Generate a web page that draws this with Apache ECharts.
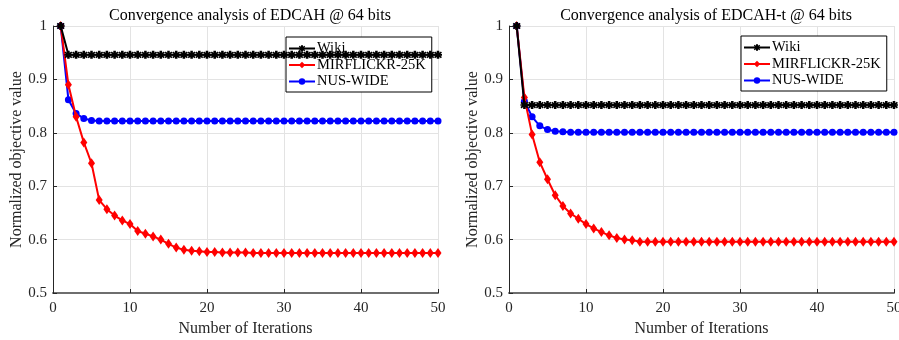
<!DOCTYPE html>
<html>
<head>
<meta charset="utf-8">
<script src="https://cdn.jsdelivr.net/npm/echarts@6/dist/echarts.min.js"></script>
<style>
  html, body { margin: 0; padding: 0; background: #fff; }
  #chart { width: 899px; height: 340px; }
</style>
</head>
<body>
<div id="chart"></div>
<script>
// left panel: EDCAH
const titleLeft = "Convergence analysis of EDCAH @ 64 bits";
const titleRight = "Convergence analysis of EDCAH-t @ 64 bits";
const seriesNames = ["Wiki", "MIRFLICKR-25K", "NUS-WIDE"];
const xTicks = [0, 10, 20, 30, 40, 50];
const yTicks = [0.5, 0.6, 0.7, 0.8, 0.9, 1];

const wikiLeft = [
  1.000, 0.946, 0.946, 0.946, 0.946, 0.946, 0.946, 0.946, 0.946, 0.946,
  0.946, 0.946, 0.946, 0.946, 0.946, 0.946, 0.946, 0.946, 0.946, 0.946,
  0.946, 0.946, 0.946, 0.946, 0.946, 0.946, 0.946, 0.946, 0.946, 0.946,
  0.946, 0.946, 0.946, 0.946, 0.946, 0.946, 0.946, 0.946, 0.946, 0.946,
  0.946, 0.946, 0.946, 0.946, 0.946, 0.946, 0.946, 0.946, 0.946, 0.946
];
const mirLeft = [
  1.000, 0.890, 0.830, 0.782, 0.743, 0.674, 0.657, 0.645, 0.636, 0.629,
  0.616, 0.611, 0.606, 0.600, 0.592, 0.585, 0.581, 0.579, 0.578, 0.577,
  0.577, 0.576, 0.576, 0.576, 0.576, 0.575, 0.575, 0.575, 0.575, 0.575,
  0.575, 0.575, 0.575, 0.575, 0.575, 0.575, 0.575, 0.575, 0.575, 0.575,
  0.575, 0.575, 0.575, 0.575, 0.575, 0.575, 0.575, 0.575, 0.575, 0.575
];
const nusLeft = [
  1.000, 0.862, 0.836, 0.827, 0.823, 0.822, 0.822, 0.822, 0.822, 0.822,
  0.822, 0.822, 0.822, 0.822, 0.822, 0.822, 0.822, 0.822, 0.822, 0.822,
  0.822, 0.822, 0.822, 0.822, 0.822, 0.822, 0.822, 0.822, 0.822, 0.822,
  0.822, 0.822, 0.822, 0.822, 0.822, 0.822, 0.822, 0.822, 0.822, 0.822,
  0.822, 0.822, 0.822, 0.822, 0.822, 0.822, 0.822, 0.822, 0.822, 0.822
];

// right panel: EDCAH-t
const wikiRight = [
  1.000, 0.852, 0.852, 0.852, 0.852, 0.852, 0.852, 0.852, 0.852, 0.852,
  0.852, 0.852, 0.852, 0.852, 0.852, 0.852, 0.852, 0.852, 0.852, 0.852,
  0.852, 0.852, 0.852, 0.852, 0.852, 0.852, 0.852, 0.852, 0.852, 0.852,
  0.852, 0.852, 0.852, 0.852, 0.852, 0.852, 0.852, 0.852, 0.852, 0.852,
  0.852, 0.852, 0.852, 0.852, 0.852, 0.852, 0.852, 0.852, 0.852, 0.852
];
const mirRight = [
  1.000, 0.866, 0.797, 0.745, 0.713, 0.683, 0.663, 0.649, 0.639, 0.629,
  0.621, 0.614, 0.608, 0.603, 0.600, 0.599, 0.596, 0.596, 0.596, 0.596,
  0.596, 0.596, 0.596, 0.596, 0.596, 0.596, 0.596, 0.596, 0.596, 0.596,
  0.596, 0.596, 0.596, 0.596, 0.596, 0.596, 0.596, 0.596, 0.596, 0.596,
  0.596, 0.596, 0.596, 0.596, 0.596, 0.596, 0.596, 0.596, 0.596, 0.596
];
const nusRight = [
  1.000, 0.859, 0.830, 0.813, 0.806, 0.803, 0.802, 0.801, 0.801, 0.801,
  0.801, 0.801, 0.801, 0.801, 0.801, 0.801, 0.801, 0.801, 0.801, 0.801,
  0.801, 0.801, 0.801, 0.801, 0.801, 0.801, 0.801, 0.801, 0.801, 0.801,
  0.801, 0.801, 0.801, 0.801, 0.801, 0.801, 0.801, 0.801, 0.801, 0.801,
  0.801, 0.801, 0.801, 0.801, 0.801, 0.801, 0.801, 0.801, 0.801, 0.801
];

const serif = "'Liberation Serif', 'DejaVu Serif', serif";
const colors = ["#000000", "#ff0000", "#0000ff"];
// chunky asterisk, like matlab's '*' drawn with a thick pen
const starPath = "path://M-1.6,-5 L1.6,-5 L1.6,-2.6 L3.6,-4.2 L5,-2.6 L3,-1 L5,-1 L5,1 L3,1 L5,2.6 L3.6,4.2 L1.6,2.6 L1.6,5 L-1.6,5 L-1.6,2.6 L-3.6,4.2 L-5,2.6 L-3,1 L-5,1 L-5,-1 L-3,-1 L-5,-2.6 L-3.6,-4.2 L-1.6,-2.6 Z";
const symbols = [starPath, "diamond", "circle"];
const symbolSizes = [8, [7, 10], 7];

const toPoints = (values) => values.map((v, i) => [i + 1, v]);

function makeAxes(gridIndex) {
  const xAxis = {
    gridIndex,
    type: "value",
    min: 0,
    max: 50,
    interval: 10,
    name: "Number of Iterations",
    nameLocation: "middle",
    nameGap: 27,
    nameTextStyle: { fontFamily: serif, fontSize: 16, color: "#262626" },
    axisLine: { onZero: false, lineStyle: { color: "#6e6e6e", width: 2 } },
    axisTick: { inside: true, length: 4, lineStyle: { color: "#262626" } },
    axisLabel: { fontFamily: serif, fontSize: 15, color: "#262626", margin: 8 },
    splitLine: { show: true, lineStyle: { color: "#e3e3e3", width: 1 } }
  };
  const yAxis = {
    gridIndex,
    type: "value",
    min: 0.5,
    max: 1,
    interval: 0.1,
    name: "Normalized objective value",
    nameLocation: "middle",
    nameGap: 28,
    nameTextStyle: { fontFamily: serif, fontSize: 16, color: "#262626" },
    axisLine: { show: true, lineStyle: { color: "#262626", width: 1 } },
    axisTick: { show: true, inside: true, length: 4, lineStyle: { color: "#262626" } },
    axisLabel: {
      fontFamily: serif,
      fontSize: 15,
      color: "#262626",
      margin: 6,
      formatter: (v) => String(Number(v.toFixed(1)))
    },
    splitLine: { show: true, lineStyle: { color: "#e3e3e3", width: 1 } }
  };
  return { xAxis, yAxis };
}

function makeSeries(gridIndex, groups) {
  return groups.map((values, k) => ({
    name: seriesNames[k],
    type: "line",
    xAxisIndex: gridIndex,
    yAxisIndex: gridIndex,
    data: toPoints(values),
    showSymbol: true,
    symbol: symbols[k],
    symbolSize: symbolSizes[k],
    itemStyle: { color: colors[k] },
    lineStyle: { color: colors[k], width: 2 },
    z: 5 - k
  }));
}

function makeLegend(left, top) {
  return {
    left,
    top,
    orient: "vertical",
    backgroundColor: "#fff",
    borderColor: "#000",
    borderWidth: 1,
    borderRadius: 0,
    padding: [4, 6, 3, 2],
    itemGap: 1.5,
    itemWidth: 26,
    itemHeight: 8,
    textStyle: { fontFamily: serif, fontSize: 14.5, color: "#000", padding: [0, 0, 0, -3] },
    data: seriesNames
  };
}

const left = makeAxes(0);
const right = makeAxes(1);

const chart = echarts.init(document.getElementById("chart"), null, { renderer: "canvas" });
chart.setOption({
  animation: false,
  backgroundColor: "#fff",
  title: [
    { text: titleLeft, left: 245, top: 3, textAlign: "center",
      textStyle: { fontFamily: serif, fontSize: 16, fontWeight: "normal", color: "#000" } },
    { text: titleRight, left: 701, top: 3, textAlign: "center",
      textStyle: { fontFamily: serif, fontSize: 16, fontWeight: "normal", color: "#000" } }
  ],
  grid: [
    { left: 53, right: 461, top: 26, bottom: 47, outerBoundsMode: "none", containLabel: false },
    { left: 509, right: 5, top: 26, bottom: 47, outerBoundsMode: "none", containLabel: false }
  ],
  legend: [makeLegend(286, 37), makeLegend(741, 36)],
  xAxis: [left.xAxis, right.xAxis],
  yAxis: [left.yAxis, right.yAxis],
  series: [
    ...makeSeries(0, [wikiLeft, mirLeft, nusLeft]),
    ...makeSeries(1, [wikiRight, mirRight, nusRight])
  ]
});
</script>
</body>
</html>
